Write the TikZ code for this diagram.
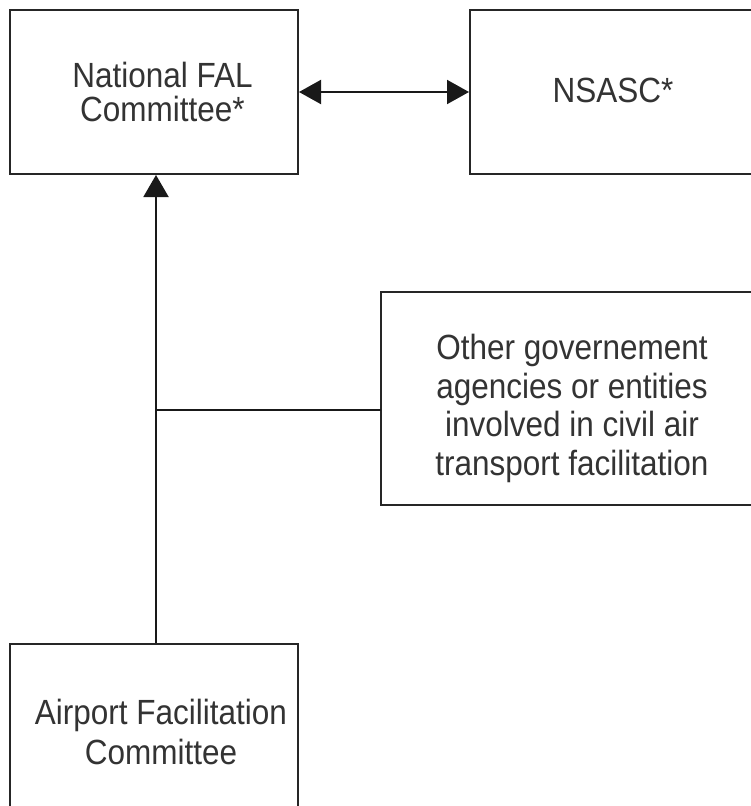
\documentclass[tikz,border=0pt]{standalone}
\usepackage{fontspec}
\setmainfont{Liberation Sans}[FakeStretch=0.9]
\usetikzlibrary{arrows.meta}
\begin{document}
\begin{tikzpicture}[x=1pt,y=-1pt,
  box/.style={draw=black!85, line width=2pt, inner sep=0pt},
  lbl/.style={align=center, text=black!80, inner sep=0pt, text depth=0pt, anchor=south},
  conn/.style={line width=2pt, draw=black!90},
  tipA/.style={Triangle[length=22pt,width=24pt]}]
\path[use as bounding box, clip] (0,0) rectangle (751,806);
\fill[white] (0,0) rectangle (751,806);
% boxes
\node[box, minimum width=288pt, minimum height=164pt] (fal) at (154,92) {};
\node[box, minimum width=300pt, minimum height=164pt] (nsasc) at (620,92) {};
\node[box, minimum width=390pt, minimum height=213pt] (other) at (576,398.5) {};
\node[box, minimum width=288pt, minimum height=186pt] (afc) at (154,737) {};
% texts
\node[lbl, font=\fontsize{35}{34}\selectfont] (falt) at (162.5,122) {National FAL\\Committee*};
\node[lbl, font=\fontsize{35}{34}\selectfont] (nsasct) at (613,103) {NSASC*};
\node[lbl, font=\fontsize{35}{38.5}\selectfont] (othert) at (572,475.5) {Other governement\\agencies or entities\\involved in civil air\\transport facilitation};
\node[lbl, font=\fontsize{35}{40}\selectfont] (afct) at (161,765) {Airport Facilitation\\Committee};
% connectors
\coordinate (oj) at (381,410);
\coordinate (spineTop) at ([xshift=2pt]fal.south);
\coordinate (spineBot) at ([xshift=2pt]afc.north);
\draw[conn, {Triangle[length=22pt,width=24pt]}-{Triangle[length=22pt,width=24pt]}] (fal.east) -- (nsasc.west);
\draw[conn, -{Triangle[length=22pt,width=25pt]}] (spineBot) -- (spineTop);
\draw[conn] (oj) -- (oj -| spineTop);
\end{tikzpicture}
\end{document}
